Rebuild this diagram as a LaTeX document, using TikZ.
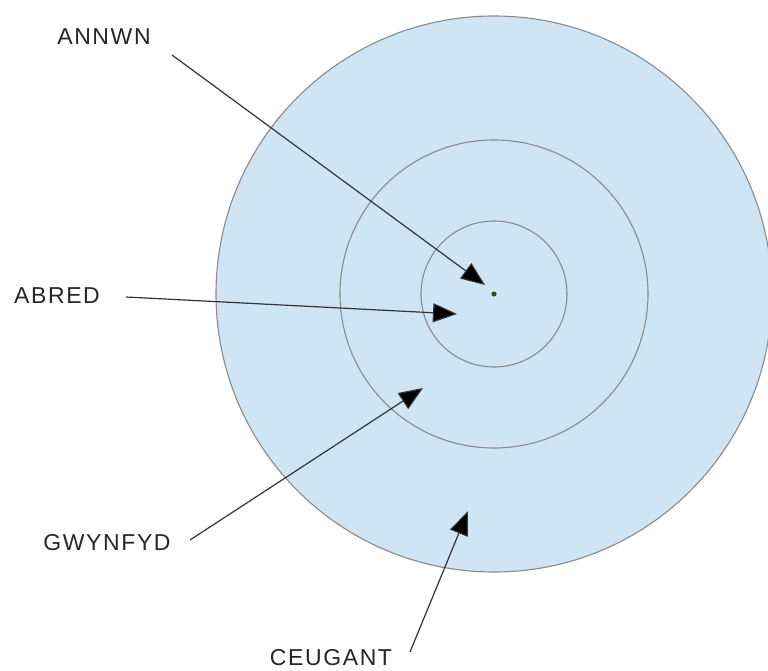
\documentclass[tikz,border=0pt]{standalone}
\usepackage{fontspec}
\setmainfont{Liberation Sans}[LetterSpace=7]
\usetikzlibrary{arrows.meta}
\definecolor{ringfill}{HTML}{D0E5F3}
\definecolor{ringline}{HTML}{8A8A8A}
\definecolor{pointer}{HTML}{333333}
\definecolor{dotcol}{HTML}{3A4A20}
\tikzset{
  ring/.style={draw=ringline, line width=1.1pt},
  label/.style={font=\fontsize{23}{27}\selectfont, text=black!85, inner sep=0pt, anchor=center},
  pointer/.style={draw=pointer, line width=1.2pt, -{Triangle[length=24pt,width=19pt,fill=black]}}
}
\begin{document}
\begin{tikzpicture}[x=1pt,y=-1pt]
  \useasboundingbox (0,0) rectangle (768,671);
  % circles of being
  \coordinate (c) at (494,294);
  \draw[ring, fill=ringfill] (c) circle (278);
  \draw[ring] (c) circle (154);
  \draw[ring] (c) circle (73);
  \fill[dotcol] (c) circle (2.6);

  % labels
  \node[label] (annwn) at (104,37) {ANNWN};
  \node[label] (abred) at (57,296) {ABRED};
  \node[label] (gwynfyd) at (107,543) {GWYNFYD};
  \node[label] (ceugant) at (331,658) {CEUGANT};

  % pointer ends
  \coordinate (annwnT) at (172,55);
  \coordinate (annwnH) at (485,285);
  \coordinate (abredT) at (126,297);
  \coordinate (abredH) at (457,314);
  \coordinate (gwynfydT) at (190,540);
  \coordinate (gwynfydH) at (423,388);
  \coordinate (ceugantT) at (410,652);
  \coordinate (ceugantH) at (468,511);

  \draw[pointer] (annwnT) -- (annwnH);
  \draw[pointer] (abredT) -- (abredH);
  \draw[pointer] (gwynfydT) -- (gwynfydH);
  \draw[pointer] (ceugantT) -- (ceugantH);
\end{tikzpicture}
\end{document}
